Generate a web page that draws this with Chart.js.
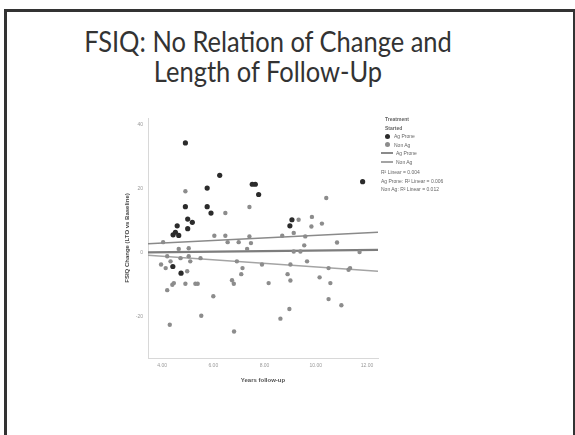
<!DOCTYPE html>
<html>
<head>
<meta charset="utf-8">
<script src="https://cdn.jsdelivr.net/npm/chart.js@4"></script>
<style>
  html, body { margin: 0; padding: 0; background: #fff; }
  body { width: 575px; height: 435px; position: relative; overflow: hidden; font-family: Lato, "Open Sans", sans-serif; }
  .frame { position: absolute; left: 4px; top: 9px; width: 566px; height: 440px; border: 3px solid #333; border-bottom: none; }
  .title { position: absolute; left: 0; width: 536px; text-align: center; color: #333; font-size: 28px; line-height: 30px; white-space: nowrap; transform: scaleX(0.91); transform-origin: 268px 0; }
  #chartBox { position: absolute; left: 0; top: 0; width: 575px; height: 435px; }
  .legend { position: absolute; left: 380px; top: 115px; font-family: "Liberation Sans", sans-serif; font-size: 5px; color: #666; line-height: 8px; }
  .legend .row { display: flex; align-items: center; white-space: nowrap; height: 8.5px; }
  .legend .dot { width: 5px; height: 5px; border-radius: 50%; margin: 0 4px 0 5px; }
  .legend .ln { width: 12px; height: 2px; margin: 0 3px 0 1px; }
  .legend .hd { padding-left: 5px; font-weight: bold; }
</style>
</head>
<body>
<div class="frame"></div>
<div class="title" style="top: 26px;">FSIQ: No Relation of Change and</div>
<div class="title" style="top: 56px;">Length of Follow-Up</div>
<div id="chartBox"><canvas id="scatter" width="575" height="435"></canvas></div>
<div class="legend" id="legend"></div>
<script>
// tick labels
const xTicks = [4, 6, 8, 10, 12];
const yTicks = [-20, 0, 20, 40];

// Ag Prone (dark points): [years follow-up, FSIQ change]
const agProneX = [4.91, 6.25, 5.76, 7.52, 7.64, 7.77, 11.83, 4.91, 5.76, 5.91, 5.00, 5.18, 5.00, 4.59, 4.43, 4.65, 4.52, 9.07, 8.99, 4.42, 4.74];
const agProneY = [34.4, 24.3, 20.3, 21.5, 21.5, 18.3, 22.3, 14.5, 14.5, 12.5, 10.6, 9.6, 7.6, 8.5, 5.7, 5.5, 6.5, 10.4, 8.5, -4.2, -6.3];

// Non Ag (grey points)
const nonAgX = [4.91, 6.47, 7.41, 10.41, 9.33, 9.85, 9.83, 10.24, 4.04, 6.04, 6.47, 6.56, 6.99, 7.41, 7.47, 8.69, 9.14, 9.59, 9.55, 10.83,
  4.65, 5.04, 7.32, 9.14, 9.40, 11.71, 4.20, 4.33, 4.72, 5.04, 5.10, 5.50, 3.96, 4.14, 4.98, 6.92, 7.14, 7.09, 7.90, 9.66,
  9.01, 8.90, 9.01, 10.50, 11.28, 11.34, 8.16, 10.15, 10.57, 4.20, 4.40, 4.46, 4.91, 5.30, 5.39, 6.73, 6.80, 6.00, 10.50, 11.00,
  8.97, 8.62, 5.53, 4.30, 6.81];
const nonAgY = [19.3, 12.5, 14.4, 17.2, 10.4, 11.3, 8.3, 9.2, 3.4, 5.4, 5.4, 3.4, 3.4, 5.2, 3.1, 5.4, 6.3, 5.2, 2.4, 3.3,
  1.3, 1.5, 1.3, 0.5, 0.5, 0.3, -1.0, -2.6, -1.6, -1.0, -2.6, -1.6, -3.6, -4.7, -5.7, -2.6, -4.7, -6.6, -3.6, -2.6,
  -3.6, -6.6, -8.6, -4.7, -5.2, -4.7, -9.4, -7.6, -9.4, -11.6, -9.9, -9.4, -9.6, -9.6, -9.6, -8.5, -9.6, -13.5, -14.4, -16.3,
  -17.5, -20.5, -19.6, -22.4, -24.5];

// fit lines (end points)
const fitX = [3.45, 12.43];
const fitTotalY = [0.2, 1.0];
const fitAgY = [2.9, 6.5];
const fitNonAgY = [-0.7, -5.7];

const legendTitle = ['Treatment', 'Started'];
const legendNotes = ['R\u00b2 Linear = 0.004', 'Ag Prone: R\u00b2 Linear = 0.006', 'Non Ag: R\u00b2 Linear = 0.012'];

const pts = (xs, ys) => xs.map((x, i) => ({ x, y: ys[i] }));

const DARK = '#2b2b2b';
const GREY = '#8c8c8c';

new Chart(document.getElementById('scatter'), {
  type: 'scatter',
  data: {
    datasets: [
      { label: 'Total', type: 'line', data: pts(fitX, fitTotalY), borderColor: '#7d7d7d', borderWidth: 2.2, pointRadius: 0, order: 3 },
      { label: 'Ag Prone fit', type: 'line', data: pts(fitX, fitAgY), borderColor: '#8a8a8a', borderWidth: 1.4, pointRadius: 0, order: 3 },
      { label: 'Non Ag fit', type: 'line', data: pts(fitX, fitNonAgY), borderColor: '#a4a4a4', borderWidth: 1.4, pointRadius: 0, order: 3 },
      { label: 'Non Ag', data: pts(nonAgX, nonAgY), backgroundColor: GREY, borderColor: GREY, pointRadius: 2.2, borderWidth: 0, order: 2 },
      { label: 'Ag Prone', data: pts(agProneX, agProneY), backgroundColor: DARK, borderColor: DARK, pointRadius: 2.6, borderWidth: 0, order: 1 },
    ]
  },
  options: {
    responsive: false,
    animation: false,
    layout: { padding: { left: 124, right: 197, top: 118, bottom: 47 } },
    plugins: { legend: { display: false }, tooltip: { enabled: false } },
    scales: {
      x: {
        type: 'linear', min: 3.45, max: 12.43,
        afterBuildTicks: s => { s.ticks = xTicks.map(v => ({ value: v })); },
        afterFit: s => { s.height = 30; },
        grid: { display: false, drawTicks: true, tickLength: 3, color: '#ccc' },
        border: { color: '#d8d8d8', width: 1 },
        ticks: { color: '#999', font: { size: 5, family: 'Liberation Sans' }, padding: 2, callback: v => v.toFixed(2), maxRotation: 0 },
        title: { display: true, text: 'Years follow-up', color: '#555', font: { size: 6, weight: 'bold', family: 'Liberation Sans' }, padding: { top: 8 } }
      },
      y: {
        type: 'linear', min: -32.8, max: 42.2,
        afterBuildTicks: s => { s.ticks = yTicks.map(v => ({ value: v })); },
        afterFit: s => { s.width = 24; },
        grid: { display: false, tickLength: 3 },
        border: { color: '#d8d8d8', width: 1 },
        ticks: { color: '#999', font: { size: 5, family: 'Liberation Sans' }, padding: 2 },
        title: { display: true, text: 'FSIQ Change (LTO vs Baseline)', color: '#444', font: { size: 6, weight: 'bold', family: 'Liberation Sans' }, padding: 0 }
      }
    }
  }
});

// legend
const legend = document.getElementById('legend');
legendTitle.forEach(t => {
  const r = document.createElement('div');
  r.className = 'row hd'; r.textContent = t; legend.appendChild(r);
});
[['dot', DARK, 'Ag Prone'], ['dot', GREY, 'Non Ag'], ['ln', '#8a8a8a', 'Ag Prone'], ['ln', '#a4a4a4', 'Non Ag']].forEach(([k, c, t]) => {
  const r = document.createElement('div');
  r.className = 'row';
  r.innerHTML = `<span class="${k}" style="background:${c}"></span><span>${t}</span>`;
  legend.appendChild(r);
});
legendNotes.forEach((t, i) => {
  const r = document.createElement('div');
  r.className = 'row'; r.style.paddingLeft = '1px';
  if (i === 0) r.style.marginTop = '2px';
  r.textContent = t; legend.appendChild(r);
});
</script>
</body>
</html>
